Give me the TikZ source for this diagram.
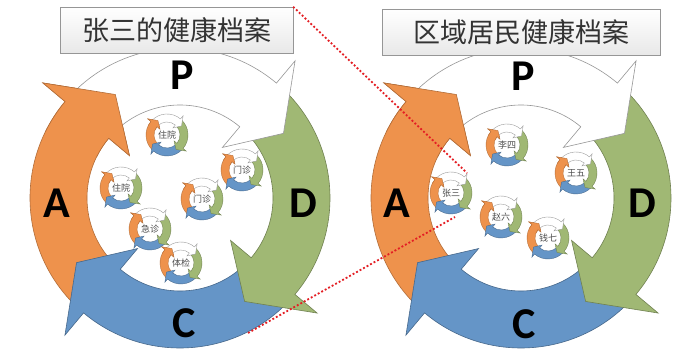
\documentclass[tikz,border=0pt]{standalone}
\usepackage{fontspec}
\newfontfamily\cjkfont{Noto Sans CJK SC}
\newfontfamily\letterfont{Carlito}
\usetikzlibrary{calc}
\definecolor{pdcaorange}{RGB}{238, 146, 76}
\definecolor{pdcagreen}{RGB}{160, 184, 116}
\definecolor{pdcablue}{RGB}{101, 149, 199}
\definecolor{rimgray}{RGB}{150, 150, 150}
\definecolor{zoomred}{RGB}{228, 30, 36}

% one clockwise arrow of the cycle, turned by #2
\newcommand\pdcaarrow[2]{%
  \path[#1, rotate=#2] (138:150) arc[start angle=138, end angle=50, radius=150]
    -- (50:179) -- (32:122) -- (50:66) -- (50:93)
    arc[start angle=50, end angle=138, radius=93] -- cycle;}
% only the head, laid again on top (open cut, so no seam line)
\newcommand\pdcahead[2]{%
  \path[#1, rotate=#2] (64:150) arc[start angle=64, end angle=50, radius=150]
    -- (50:179) -- (32:122) -- (50:66) -- (50:93)
    arc[start angle=50, end angle=64, radius=93];}

\tikzset{
  arrowP/.style={fill=white, draw=rimgray},
  arrowD/.style={fill=pdcagreen, draw=pdcagreen!70!black},
  arrowC/.style={fill=pdcablue, draw=pdcablue!70!black},
  arrowA/.style={fill=pdcaorange, draw=pdcaorange!75!black},
  pdca/.pic={
    \pdcaarrow{arrowA}{90}
    \pdcaarrow{arrowC}{-180}
    \pdcaarrow{arrowD}{-90}
    \pdcaarrow{arrowP}{0}
    \pdcahead{arrowA}{90}
  },
  titlebox/.style={draw=rimgray, top color=white, bottom color=gray!18, minimum height=46pt, inner sep=0pt, text=black!80, font=\cjkfont\fontsize{27}{27}\selectfont},
  pdcaletter/.style={inner sep=0pt, font=\letterfont\bfseries\fontsize{44}{44}\selectfont},
  minilabel/.style={inner sep=0pt, text=black!70, font=\cjkfont\fontsize{9}{9}\selectfont},
  zoomline/.style={zoomred, line width=1.8pt, dash pattern=on 1.9pt off 2.1pt}
}

\begin{document}
\begin{tikzpicture}[x=1pt, y=1pt]
  \fill[white] (0,0) rectangle (680,363);
  \useasboundingbox (0,0) rectangle (680,363);

  % Left: one resident
  \pic[line width=0.6pt] at (180,165) {pdca};
  \node[titlebox, minimum width=233pt] (titleL) at (176.5,333) {张三的健康档案};
  \node[pdcaletter] (pL) at (182,288) {P};
  \node[pdcaletter] (dL) at (303,160) {D};
  \node[pdcaletter] (cL) at (184,40) {C};
  \node[pdcaletter] (aL) at (57,160) {A};

  \pic[scale=0.14, line width=0.35pt] at (167,228) {pdca};
  \node[minilabel] (zhuyuanA) at (167,228) {住院};
  \pic[scale=0.14, line width=0.35pt] at (242,193) {pdca};
  \node[minilabel] (menzhenA) at (242,193) {门诊};
  \pic[scale=0.14, line width=0.35pt] at (121,175) {pdca};
  \node[minilabel] (zhuyuanB) at (121,175) {住院};
  \pic[scale=0.14, line width=0.35pt] at (202,164) {pdca};
  \node[minilabel] (menzhenB) at (202,164) {门诊};
  \pic[scale=0.14, line width=0.35pt] at (150,134) {pdca};
  \node[minilabel] (jizhen) at (150,134) {急诊};
  \pic[scale=0.14, line width=0.35pt] at (181,100) {pdca};
  \node[minilabel] (tijian) at (181,100) {体检};

  % Right: the region
  \pic[line width=0.6pt] at (521,165) {pdca};
  \node[titlebox, minimum width=278pt] (titleR) at (521,331) {区域居民健康档案};
  \node[pdcaletter] (pR) at (523,287) {P};
  \node[pdcaletter] (dR) at (642,160) {D};
  \node[pdcaletter] (cR) at (524,39) {C};
  \node[pdcaletter] (aR) at (397,160) {A};

  \pic[scale=0.14, line width=0.35pt] at (507,218) {pdca};
  \node[minilabel] (lisi) at (507,218) {李四};
  \pic[scale=0.14, line width=0.35pt] at (576,190) {pdca};
  \node[minilabel] (wangwu) at (576,190) {王五};
  \pic[scale=0.14, line width=0.35pt] at (451,170) {pdca};
  \node[minilabel] (zhangsan) at (451,170) {张三};
  \pic[scale=0.14, line width=0.35pt] at (501,146) {pdca};
  \node[minilabel] (zhaoliu) at (501,146) {赵六};
  \pic[scale=0.14, line width=0.35pt] at (548,125) {pdca};
  \node[minilabel] (qianqi) at (548,125) {钱七};

  % zoom lines
  \coordinate (cycleBottom) at (248,30);
  \coordinate (zsTop) at ($(zhangsan)+(16,20)$);
  \coordinate (zsBottom) at ($(zhangsan)+(4,-24)$);
  \draw[zoomline] (titleL.north east) -- (zsTop);
  \draw[zoomline] (cycleBottom) -- (zsBottom);
\end{tikzpicture}
\end{document}
